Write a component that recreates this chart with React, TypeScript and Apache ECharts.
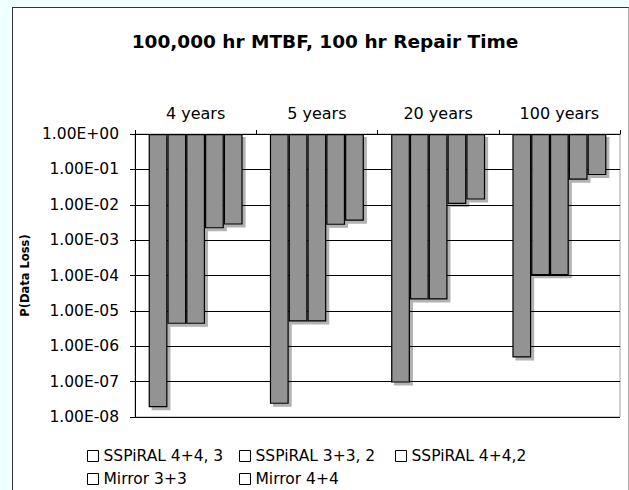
import React, { useEffect, useRef } from "react";
import * as echarts from "echarts";

const categories = ["4 years", "5 years", "20 years", "100 years"];
const seriesNames = ["SSPiRAL 4+4, 3", "SSPiRAL 3+3, 2", "SSPiRAL 4+4,2", "Mirror 3+3", "Mirror 4+4"];
const sspiral443 = [1.9e-8, 2.35e-8, 9.4e-8, 4.8e-7];
const sspiral332 = [4.3e-6, 5.0e-6, 2.1e-5, 1.02e-4];
const sspiral442 = [4.3e-6, 5.0e-6, 2.1e-5, 1.02e-4];
const mirror33 = [2.15e-3, 2.7e-3, 1.05e-2, 5.1e-2];
const mirror44 = [2.75e-3, 3.55e-3, 1.4e-2, 6.9e-2];
const seriesValues = [sspiral443, sspiral332, sspiral442, mirror33, mirror44];

const titleText = "100,000 hr MTBF, 100 hr Repair Time";
const yAxisName = "P(Data Loss)";

const FONT = "'DejaVu Sans', Verdana, sans-serif";

function fmtExp(v: number): string {
  const e = Math.round(Math.log10(v));
  const sign = e < 0 ? "-" : "+";
  return "1.00E" + sign + String(Math.abs(e)).padStart(2, "0");
}

const legendPos = [
  { left: 87, top: 448 },
  { left: 239, top: 448 },
  { left: 395, top: 448 },
  { left: 87, top: 471 },
  { left: 239, top: 471 },
];

export default function App() {
  const ref = useRef<HTMLDivElement>(null);
  useEffect(() => {
    if (!ref.current) return;
    const chart = echarts.init(ref.current, undefined, { renderer: "svg" });
    chart.setOption({
      animation: false,
      backgroundColor: "transparent",
      title: {
        text: titleText,
        left: 320,
        top: 27,
        textAlign: "center",
        textStyle: { fontFamily: FONT, fontSize: 18.5, fontWeight: "bold", color: "#000" },
      },
      legend: seriesNames.map((n, i) => ({
        data: [n],
        left: legendPos[i].left,
        top: legendPos[i].top,
        icon: "rect",
        itemWidth: 11,
        itemHeight: 11,
        selectedMode: false,
        padding: 0,
        itemStyle: { color: "#fff", borderColor: "#000", borderWidth: 1, shadowBlur: 0, shadowOffsetX: 0, shadowOffsetY: 0, shadowColor: "transparent" },
        textStyle: { fontFamily: FONT, fontSize: 15.5, color: "#000" },
      })),
      grid: {
        left: 135,
        right: 9,
        top: 134,
        bottom: 73,
        show: true,
        borderColor: "#a0a0a0",
        borderWidth: 1,
        backgroundColor: "transparent",
      },
      xAxis: {
        type: "category",
        data: categories,
        position: "top",
        axisLine: { show: true, lineStyle: { color: "#000", width: 1 } },
        axisTick: { show: true, alignWithLabel: false, interval: 0, length: 4, lineStyle: { color: "#000" } },
        axisLabel: { fontFamily: FONT, fontSize: 16, color: "#000", margin: 13, interval: 0 },
        splitLine: { show: false },
      },
      yAxis: {
        type: "log",
        logBase: 10,
        min: 1e-8,
        max: 1,
        splitNumber: 8,
        name: yAxisName,
        nameLocation: "middle",
        nameRotate: 90,
        nameGap: 99,
        nameTextStyle: { fontFamily: FONT, fontSize: 11.5, fontWeight: "bold", color: "#000" },
        axisLine: { show: true, lineStyle: { color: "#000", width: 1 } },
        axisTick: { show: true, length: 5, lineStyle: { color: "#000" } },
        minorTick: { show: false },
        axisLabel: { fontFamily: FONT, fontSize: 15.5, color: "#000", margin: 16, formatter: (v: number) => fmtExp(v) },
        splitLine: { show: true, lineStyle: { color: "#000", width: 1 } },
      },
      series: seriesNames.map((n, i) => ({
        name: n,
        type: "bar",
        data: seriesValues[i],
        barGap: "0%",
        barCategoryGap: "22.5%",
        itemStyle: {
          color: "#939393",
          borderColor: "#000",
          borderWidth: 1.2,
          shadowColor: "rgba(0,0,0,0.3)",
          shadowBlur: 0,
          shadowOffsetX: 3,
          shadowOffsetY: 3,
        },
        emphasis: { disabled: true },
      })),
    });
    return () => chart.dispose();
  }, []);
  return (
    <div style={{ position: "fixed", left: 0, top: 0, width: 629, height: 490, background: "#f0ffff", overflow: "hidden" }}>
      <div
        style={{
          position: "absolute",
          left: 12,
          top: 7,
          width: 615,
          height: 500,
          background: "#fff",
          borderLeft: "1px solid #333",
          borderTop: "1px solid #333",
          borderRight: "1px solid #aaa",
        }}
      />
      <div ref={ref} style={{ position: "absolute", left: 0, top: 0, width: 629, height: 490 }} />
    </div>
  );
}
